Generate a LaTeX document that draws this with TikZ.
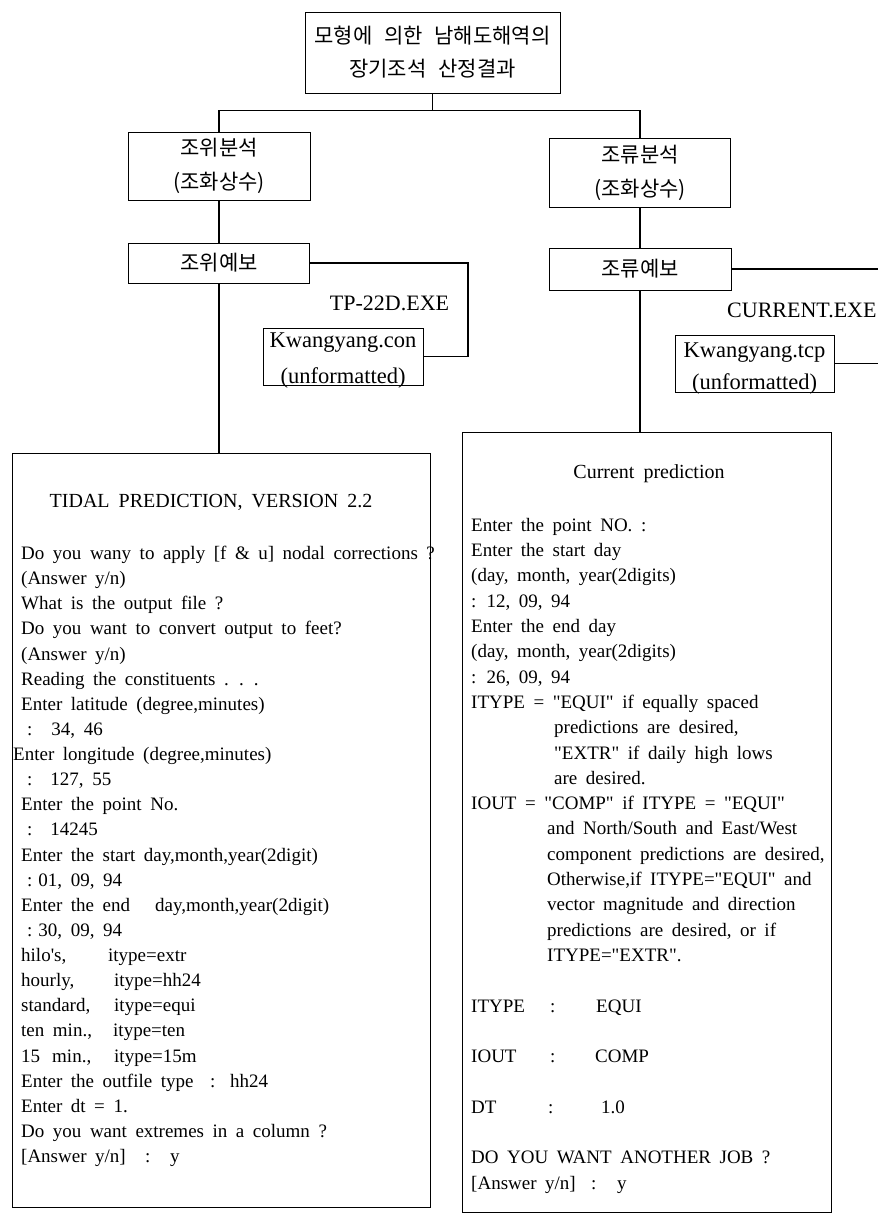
\documentclass[tikz,border=0pt]{standalone}
\usepackage{fontspec}
\setmainfont[WordSpace=1.8,Ligatures=TeXOff]{Liberation Serif}
\newfontfamily\krfont[WordSpace=2.5]{Noto Sans CJK KR}
\usetikzlibrary{positioning}
\newcommand\nodepth[1]{\raisebox{0pt}[\height][0pt]{#1}}

\begin{document}
\begin{tikzpicture}[
  x=1pt, y=-1pt,
  krbox/.style={draw, line width=1pt, align=center, inner sep=0pt,
    font=\krfont\fontsize{21pt}{34pt}\selectfont},
  filebox/.style={draw, line width=1pt, align=center, inner sep=0pt,
    font=\fontsize{22.5pt}{32pt}\selectfont},
  runbox/.style={draw, line width=1pt, inner sep=0pt},
  runtext/.style={anchor=north west, align=left, inner sep=0pt},
  exe/.style={inner sep=0pt, font=\fontsize{22pt}{26pt}\selectfont},
  link/.style={line width=1.5pt}
]
  \useasboundingbox (0,0) rectangle (878,1216);

  % tree of headings
  \node[krbox, minimum width=255pt, minimum height=81pt] (title) at (432.5,52.5)
    {모형에 의한 남해도해역의\\[-1pt]장기조석 산정결과};
  \node[krbox, minimum width=182pt, minimum height=68pt] (tideanal) at (219,166)
    {조위분석\\(조화상수)};
  \node[krbox, minimum width=181pt, minimum height=69pt] (curanal) at (640,172.5)
    {조류분석\\(조화상수)};
  \node[krbox, minimum width=181pt, minimum height=40pt] (tidepred) at (219,263) {조위예보};
  \node[krbox, minimum width=182pt, minimum height=42pt] (curpred) at (640,269) {조류예보};

  % programs and their files
  \node[exe] (tpexe) at (389.5,303) {TP-22D.EXE};
  \node[exe, anchor=west] (curexe) at (727,310) {CURRENT.EXE};
  \node[filebox, minimum width=160pt, minimum height=57pt] (confile) at (343,356.5)
    {\rule{0pt}{18pt}Kwangyang.con\\[4pt]\nodepth{(unformatted)}};
  \node[filebox, minimum width=159pt, minimum height=57pt] (tcpfile) at (754.5,363.5)
    {\rule{0pt}{19pt}Kwangyang.tcp\\\nodepth{(unformatted)}};

  % run sessions
  \node[runbox, minimum width=418pt, minimum height=754pt] (tidebox) at (221,830) {};
  \node[runbox, minimum width=369pt, minimum height=780pt] (curbox) at (646.5,822) {};
  \node[inner sep=0pt, font=\fontsize{20pt}{24pt}\selectfont] (tidehead) at (211,502)
    {TIDAL PREDICTION, VERSION 2.2};
  \node[inner sep=0pt, font=\fontsize{20pt}{24pt}\selectfont] (curhead) at (649,474)
    {Current prediction};

  \node[runtext, font=\fontsize{19pt}{25.125pt}\selectfont] (tidetext) at (21,546) {%
    Do you wany to apply [f \& u] nodal corrections ?\\
    (Answer y/n)\\
    What is the output file ?\\
    Do you want to convert output to feet?\\
    (Answer y/n)\\
    Reading the constituents . . .\\
    Enter latitude (degree,minutes)\\
    \hspace*{6pt}:\hspace*{19pt}34, 46\\
    \hspace*{-8pt}Enter longitude (degree,minutes)\\
    \hspace*{6pt}:\hspace*{18pt}127, 55\\
    Enter the point No.\\
    \hspace*{6pt}:\hspace*{18pt}14245\\
    Enter the start day,month,year(2digit)\\
    \hspace*{6pt}:\hspace*{6pt}01, 09, 94\\
    \makebox[134pt][l]{Enter the end}day,month,year(2digit)\\
    \hspace*{6pt}:\hspace*{6pt}30, 09, 94\\
    \makebox[87pt][l]{hilo's,}itype=extr\\
    \makebox[93pt][l]{hourly,}itype=hh24\\
    \makebox[93pt][l]{standard,}itype=equi\\
    \makebox[92pt][l]{ten min.,}itype=ten\\
    \makebox[93pt][l]{15\hspace*{12pt}min.,}itype=15m\\
    \makebox[189pt][l]{Enter the outfile type}\makebox[20pt][l]{:}hh24\\
    Enter dt = 1.\\
    Do you want extremes in a column ?\\
    \makebox[124pt][l]{[Answer y/n]}\makebox[25pt][l]{:}y};

  \node[runtext, font=\fontsize{19pt}{25.3pt}\selectfont] (curtext) at (471,518) {%
    Enter the point NO. :\\
    Enter the start day\\
    (day, month, year(2digits)\\
    : 12, 09, 94\\
    Enter the end day\\
    (day, month, year(2digits)\\
    : 26, 09, 94\\
    ITYPE = "EQUI" if equally spaced\\
    \hspace*{83pt}predictions are desired,\\
    \hspace*{83pt}"EXTR" if daily high lows\\
    \hspace*{83pt}are desired.\\
    IOUT = "COMP" if ITYPE = "EQUI"\\
    \hspace*{76pt}and North/South and East/West\\
    \hspace*{76pt}component predictions are desired,\\
    \hspace*{76pt}Otherwise,if ITYPE="EQUI" and\\
    \hspace*{76pt}vector magnitude and direction\\
    \hspace*{76pt}predictions are desired, or if\\
    \hspace*{76pt}ITYPE="EXTR".\\[25.3pt]
    \makebox[79pt][l]{ITYPE}\makebox[46pt][l]{:}EQUI\\[25.3pt]
    \makebox[79pt][l]{IOUT}\makebox[45pt][l]{:}COMP\\[25.3pt]
    \makebox[77pt][l]{DT}\makebox[53pt][l]{:}1.0\\[25.3pt]
    DO YOU WANT ANOTHER JOB ?\\
    \makebox[120pt][l]{[Answer y/n]}\makebox[26pt][l]{:}y};

  % connectors
  \draw[link] (title.south) -- ++(0,17) coordinate (fork);
  \draw[link] (tideanal.north) |- (fork) -| (curanal.north);
  \draw[link] (tideanal) -- (tidepred);
  \draw[link] (tidepred.south) -- (tidepred.south |- tidebox.north);
  \draw[link] (curanal) -- (curpred);
  \draw[link] (curpred.south) -- (curpred.south |- curbox.north);
  \coordinate (tpbend) at (468,356.5);
  \draw[link] (tidepred.east) -| (tpbend) -- (confile.east);
  \coordinate (rim) at (890,0);
  \draw[link] (curpred.east) -- (curpred.east -| rim);
  \draw[link] (tcpfile.east) -- (tcpfile.east -| rim);
\end{tikzpicture}
\end{document}
